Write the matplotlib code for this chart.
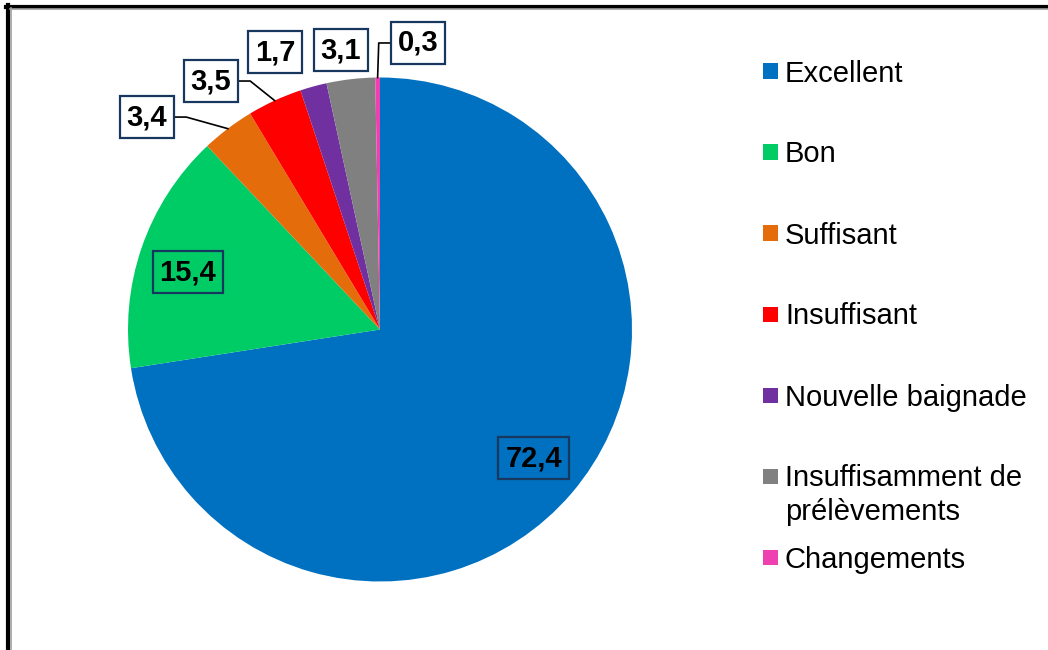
import matplotlib.pyplot as plt
from matplotlib.patches import Rectangle
from matplotlib.lines import Line2D
import numpy as np

plt.rcParams['font.family'] = ['Liberation Sans', 'DejaVu Sans']

categories = ['Excellent', 'Bon', 'Suffisant', 'Insuffisant', 'Nouvelle baignade',
              'Insuffisamment de\nprélèvements', 'Changements']
values = [72.4, 15.4, 3.4, 3.5, 1.7, 3.1, 0.3]
value_labels = ['72,4', '15,4', '3,4', '3,5', '1,7', '3,1', '0,3']
colors = ['#0070C0', '#00CC66', '#E46C0A', '#FF0000', '#7030A0', '#808080', '#EE40B0']

# where Excel put the labels (pie radius = 1)
label_pos = [(0.61, -0.51), (-0.762, 0.228), (-0.925, 0.843), (-0.671, 0.986),
             (-0.417, 1.101), (-0.155, 1.109), (0.151, 1.137)]
outside = [False, False, True, True, True, True, True]
leader = [False, False, True, True, False, False, True]

W, H = 1048, 650
fig = plt.figure(figsize=(W / 100, H / 100), dpi=100)

# frame (left and top only, like the copied excel chart)
fig.add_artist(Line2D([8 / W, 8 / W], [0, 1 - 5 / H], color='black', lw=3))
fig.add_artist(Line2D([6 / W, 1], [1 - 6.5 / H, 1 - 6.5 / H], color='black', lw=3))
fig.add_artist(Line2D([11 / W, 11 / W], [0, 1 - 8 / H], color='#A0A0A0', lw=1.2))
fig.add_artist(Line2D([10 / W, 1], [1 - 9 / H, 1 - 9 / H], color='#A0A0A0', lw=1.2))

cx, cy, r = 380, 329.5, 252
ax = fig.add_axes([(cx - r) / W, (H - cy - r) / H, 2 * r / W, 2 * r / H])
wedges, _ = ax.pie(values, colors=colors, startangle=90, counterclock=False,
                   radius=1, wedgeprops=dict(linewidth=0))
ax.set_xlim(-1, 1)
ax.set_ylim(-1, 1)
ax.set_aspect('equal')
ax.axis('off')

texts = []
for lab, (x, y), out in zip(value_labels, label_pos, outside):
    t = ax.text(x, y, lab, ha='center', va='center', fontsize=21, fontweight='bold',
                color='black', clip_on=False,
                bbox=dict(boxstyle='square,pad=0.24', fc='white' if out else 'none',
                          ec='#17375E', lw=1.6))
    texts.append(t)

fig.canvas.draw()
renderer = fig.canvas.get_renderer()
for w, t, lead in zip(wedges, texts, leader):
    if not lead:
        continue
    mid = np.deg2rad((w.theta1 + w.theta2) / 2)
    rim = ax.transData.transform((np.cos(mid), np.sin(mid)))
    bb = t.get_bbox_patch().get_window_extent(renderer)
    ym = (bb.y0 + bb.y1) / 2
    if rim[0] > bb.x1:
        edge, elbow = bb.x1, bb.x1 + 12
    else:
        edge, elbow = bb.x0, bb.x0 - 12
    pts = ax.transData.inverted().transform([(edge, ym), (elbow, ym), rim])
    ax.plot(pts[:, 0], pts[:, 1], color='black', lw=1.2, clip_on=False, zorder=1)

# legend, drawn by hand so the square sits on the first line
for i, (name, c) in enumerate(zip(categories, colors)):
    yc = 71 + 81 * i
    fig.add_artist(Rectangle((763 / W, 1 - (yc + 7.5) / H), 15 / W, 15 / H,
                             facecolor=c, edgecolor='none'))
    for j, line in enumerate(name.split('\n')):
        fig.text(785 / W, 1 - (yc + 10.5 + 33 * j) / H, line, fontsize=21,
                 va='baseline', ha='left')

fig.savefig('out.png', dpi=100)
